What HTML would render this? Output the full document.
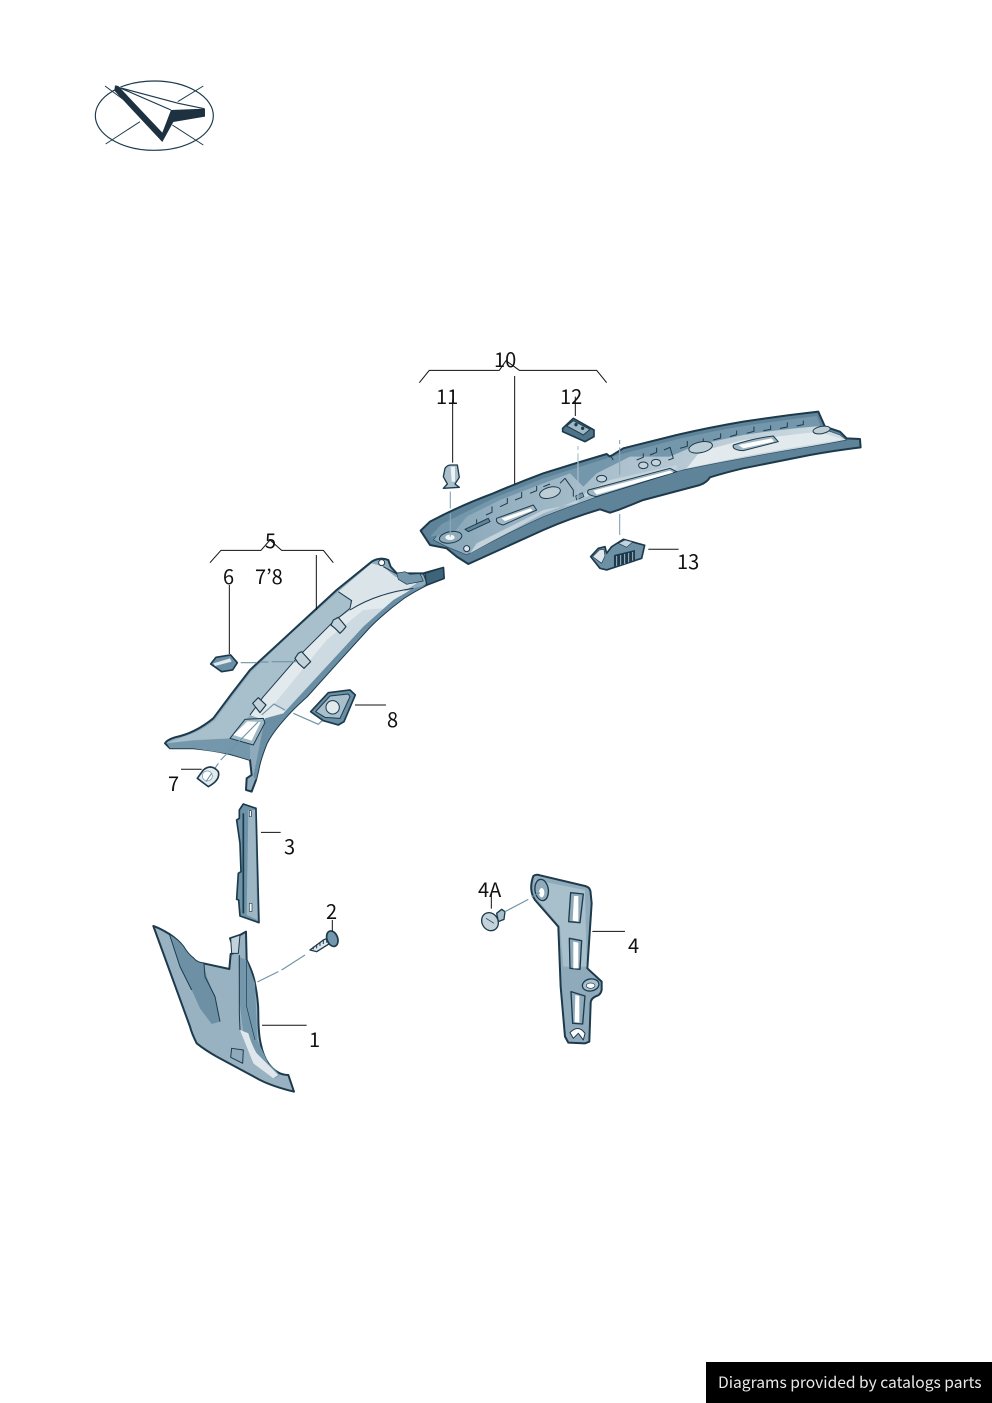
<!DOCTYPE html>
<html><head><meta charset="utf-8"><style>
html,body{margin:0;padding:0;background:#fff;width:992px;height:1403px;overflow:hidden}
svg{display:block;position:absolute;left:0;top:0}
text{font-family:"Noto Sans CJK JP","DejaVu Sans",sans-serif;font-size:20px;fill:#111}
#f{position:absolute;left:706px;top:1362px;width:286px;height:41px;background:#000;color:#e8e8e8;font:15.6px/41px "Noto Sans CJK JP","DejaVu Sans",sans-serif;white-space:nowrap}
#f span{position:absolute;left:12px;top:0}
</style></head><body>
<svg width="992" height="1403" viewBox="0 0 992 1403">
<defs>
<linearGradient id="g1" x1="0" y1="0" x2="1" y2="0"><stop offset="0" stop-color="#86a5b7"/><stop offset=".4" stop-color="#a9bfcc"/><stop offset="1" stop-color="#cfdbe2"/></linearGradient>
</defs>

<!-- logo -->
<g transform="translate(85,70) scale(.3333)" fill="none" stroke="#1d3a4c">
<ellipse cx="208" cy="137" rx="177" ry="104" stroke-width="3.5"/>
<path d="M60 48L165 125M278 95L355 48M165 155L62 222M262 165L355 225" stroke-width="3"/>
<path d="M88 46L360 116L360 140L262 158L232 215L172 155Z" fill="#fff" stroke="none"/>
<path d="M90 46L100 48L232 188L258 120L360 116L360 140L265 156L232 216L88 62Z" fill="#1d3140" stroke="none"/>
<path d="M92 48L258 120M100 52L280 100L358 116" stroke-width="3.5"/>
</g>

<!-- part 10 -->
<g transform="translate(410,340) scale(.3333)" stroke-linejoin="round">
<path d="M32 572L60 545Q150 497 250 460Q325 428 400 400Q495 370 590 342L600 350L640 325Q720 305 800 285Q900 262 1000 245Q1110 228 1225 215L1245 260L1290 275L1310 295L1350 297L1352 322Q1270 332 1200 345Q1100 365 1000 385Q945 398 900 412Q890 428 870 435L700 480L625 510L600 518L570 508Q480 535 400 570Q290 620 175 672L140 650L110 625L60 615Z" fill="#5f8499" stroke="#1d3a4c" stroke-width="6"/>
<path d="M70 600L100 560Q170 518 250 480Q325 448 400 420Q500 388 600 360Q700 330 800 305Q900 282 1000 265Q1110 248 1215 235L1235 265L1290 285L1310 300Q1250 312 1200 320Q1100 336 1000 355Q905 372 820 390Q715 418 620 450Q510 488 400 530Q280 585 170 645L110 620Z" fill="url(#g1)" stroke="#2a4c60" stroke-width="2"/>
<path d="M60 590L95 552Q170 515 250 475Q325 445 400 415Q500 383 600 352Q700 325 800 298Q900 275 1000 258Q1110 242 1220 228L1232 258Q1110 268 1000 285L860 315L780 350L660 350L560 400L520 440L480 400L400 430L270 480L170 530L130 580Z" fill="#7497ab"/>
<path d="M830 385L870 335L1000 300L1100 290L1225 275L1300 298Q1100 330 1000 350Z" fill="#e3eaee"/>
<path d="M400 520Q480 490 570 455L800 388L800 375L600 420L530 455L500 490L400 510L200 610L180 640Z" fill="#c4d3db"/>
<g fill="none" stroke="#1d3a4c" stroke-width="3">
<path d="M180 570l20-10v-22M228 525l18-8v-18M270 500l22-10v-16M315 480l20-8v-16M360 460l20-8v-14M400 440l20-8M680 360l20-8v-12M720 345l20-8v-14M810 325l22-6v-16M860 315l20-6v-14M910 300l22-6v-14M960 290l20-6v-12M1010 280l22-6v-14M1060 272l22-4v-12M1110 265l22-4v-14M1160 258l20-4v-12"/>
<path d="M450 430L465 415L490 450L490 470M762 330L780 322L790 355L775 360M600 345L610 360"/>
</g>
<path d="M260 535L370 495L380 510L280 555Q255 550 260 535Z" fill="#9fb8c6" stroke="#1d3a4c" stroke-width="3"/>
<path d="M275 535L362 505L368 512L285 543Z" fill="#fff"/>
<path d="M970 315Q1030 295 1090 288L1105 305L1000 332Q965 330 970 315Z" fill="#9fb8c6" stroke="#1d3a4c" stroke-width="3"/>
<path d="M985 315L1085 295L1092 305L1000 325Z" fill="#fff"/>
<path d="M535 450L780 385L800 395L560 470Q525 465 535 450Z" fill="#9fb8c6" stroke="#1d3a4c" stroke-width="3"/>
<path d="M550 452L780 392L790 398L560 464Z" fill="#fff"/>
<path d="M165 568L235 535L240 545L175 575Z" fill="#5f8499" stroke="#1d3a4c" stroke-width="3"/>
<ellipse cx="420" cy="458" rx="32" ry="16" transform="rotate(-15 420 458)" fill="#bccdd6" stroke="#1d3a4c" stroke-width="3"/>
<ellipse cx="872" cy="322" rx="36" ry="16" transform="rotate(-12 872 322)" fill="#bccdd6" stroke="#1d3a4c" stroke-width="3"/>
<ellipse cx="1235" cy="270" rx="26" ry="11" transform="rotate(-10 1235 270)" fill="#bccdd6" stroke="#1d3a4c" stroke-width="3"/>
<ellipse cx="122" cy="592" rx="34" ry="17" transform="rotate(-10 122 592)" fill="#8fabba" stroke="#1d3a4c" stroke-width="3"/>
<ellipse cx="120" cy="592" rx="14" ry="8" fill="#f4f7f8"/>
<circle cx="170" cy="626" r="9" fill="#dfe7ec" stroke="#1d3a4c" stroke-width="3"/>
<ellipse cx="575" cy="416" rx="15" ry="10" fill="#c4d3db" stroke="#1d3a4c" stroke-width="3"/>
<ellipse cx="700" cy="376" rx="14" ry="10" fill="#c4d3db" stroke="#1d3a4c" stroke-width="3"/>
<ellipse cx="738" cy="368" rx="14" ry="10" fill="#c4d3db" stroke="#1d3a4c" stroke-width="3"/>
<path d="M500 480l22-10-5-12-20 10z" fill="#7497ab" stroke="#1d3a4c" stroke-width="2"/>
<!-- dash lines -->
<g fill="none" stroke="#88a8ba" stroke-width="3.5">
<path d="M121 455V505M121 520V590"/>
<path d="M504 318V330M504 340V480" stroke="#a9c0cd"/>
<path d="M629 300V312M629 322V405"/>
<path d="M629 522V585"/>
</g>
<!-- 11 -->
<path d="M105 385Q112 375 122 375L142 375L148 412L135 432L148 442L100 445L112 432L100 410Z" fill="#a9bfcc" stroke="#1d3a4c" stroke-width="4"/>
<path d="M122 380L135 380L135 425L125 425Z" fill="#eef2f4"/>
<!-- 12 -->
<path d="M458 265L490 235L552 270L552 290L525 305L458 275Z" fill="#4f7488" stroke="#1d3a4c" stroke-width="5"/>
<path d="M470 258L490 242L540 268L520 285Z" fill="#9fb8c6" stroke="#1d3a4c" stroke-width="3"/>
<circle cx="498" cy="254" r="5" fill="#1d3a4c"/><circle cx="518" cy="265" r="5" fill="#1d3a4c"/>
<!-- 13 -->
<path d="M542 650L565 625L585 620L590 640L605 620L640 598L665 605L704 616L695 655L590 690L570 685Z" fill="#6d90a4" stroke="#1d3a4c" stroke-width="5"/>
<path d="M548 650L568 630L582 628L585 648L575 670Z" fill="#dfe7ec" stroke="#1d3a4c" stroke-width="2"/>
<path d="M625 610L645 600L668 606L650 622Z" fill="#c4d3db" stroke="#1d3a4c" stroke-width="2"/>
<path d="M612 645L675 630L675 660L612 680Z" fill="#1d3a4c"/>
<path d="M620 648v30M632 645v30M644 642v30M656 639v28M668 636v26" stroke="#9fb8c6" stroke-width="3"/>
<!-- leaders -->
<g fill="none" stroke="#111" stroke-width="3">
<path d="M28 128L58 91H268L288 62L328 91H560L590 128"/>
<path d="M314 108V432"/>
<path d="M128 178V368"/>
<path d="M496 170V228"/>
<path d="M715 628H806"/>
</g>
</g>

<!-- part 5 -->
<g transform="translate(150,530) scale(.3333)" stroke-linejoin="round">
<path d="M45 640Q50 630 75 622Q135 610 190 565Q245 490 300 420Q365 360 430 300Q495 240 560 180L665 95Q690 80 715 90L722 110L740 130L820 130L880 113L882 145L830 165Q790 185 760 205Q705 245 660 290Q610 345 560 400Q515 450 470 500Q430 535 400 570Q365 610 350 640Q330 690 325 720L318 750L305 785L288 780L290 745L305 735L300 690Q270 680 240 672Q185 660 130 655Q90 655 60 655Z" fill="#8fabbb" stroke="#1d3a4c" stroke-width="6"/>
<path d="M50 640Q100 620 130 610Q165 595 195 570Q250 495 305 425Q365 365 430 305L565 185L600 210L600 235L545 280L440 385L340 500L300 555L240 625L130 630Z" fill="#a8bfcc"/>
<path d="M565 185L665 100L700 110L735 140L800 160L760 185L660 205L600 240L605 210Z" fill="#dbe4e9"/>
<path d="M600 240L660 205L780 180L720 225L640 305L520 435L400 555L340 570L300 555L340 500L440 385L545 280Z" fill="#e3eaee"/>
<path d="M370 525L530 330L640 240L700 235L640 300L520 435L405 545Z" fill="#cddae1"/>
<path d="M345 565L400 550L520 420L640 290L730 210L790 175L830 165Q790 185 760 205Q705 245 660 290Q610 345 560 400Q515 450 470 500Q430 535 400 570Q365 610 350 640Q330 690 325 720L318 750L310 740L320 690L330 640Z" fill="#6a8fa4"/>
<path d="M130 632L240 625L300 640L300 690L240 672L130 655L60 655L50 640Z" fill="#7497ab"/>
<path d="M240 625L285 568L340 565L345 578L310 645Z" fill="#9fb8c6" stroke="#1d3a4c" stroke-width="3"/>
<path d="M250 615L292 574L332 576L305 632Z" fill="#fff"/>
<path d="M300 555L340 500L440 385L545 280L600 235L605 212L565 185" fill="none" stroke="#1d3a4c" stroke-width="3"/>
<path d="M600 240Q680 190 790 175" fill="none" stroke="#1d3a4c" stroke-width="3"/>
<path d="M700 110l40 22 80 0 10 25" fill="none" stroke="#1d3a4c" stroke-width="3"/>
<circle cx="695" cy="98" r="9" fill="#fff" stroke="#1d3a4c" stroke-width="3"/>
<path d="M825 130L880 113L882 145L830 165Z" fill="#3f6479" stroke="#1d3a4c" stroke-width="4"/>
<path d="M740 130l25-5 15 8 30-2 10 22-50 10-25-15z" fill="#7497ab" stroke="#1d3a4c" stroke-width="2"/>
<!-- clips -->
<g fill="#c4d3db" stroke="#1d3a4c" stroke-width="3.5">
<path d="M543 285L550 270L565 262L588 290L580 300L570 310L555 295Z"/>
<path d="M435 385L445 370L455 365L482 395L472 405L462 415L445 400Z"/>
<path d="M308 520L325 503L348 525L330 548Z"/>
</g>
<!-- dashes -->
<g fill="none" stroke="#6f94a8" stroke-width="3.5">
<path d="M272 398H320M330 396H355M365 395H440"/>
<path d="M335 555L372 522L405 540M430 550L505 583L555 535"/>
<path d="M168 755L205 700M212 690L325 575"/>
</g>
<!-- 6 -->
<path d="M182 402L198 382L242 375L262 398L248 420L215 425Z" fill="#6a8fa4" stroke="#1d3a4c" stroke-width="5"/>
<path d="M190 400L240 385L245 395L195 408Z" fill="#dfe7ec"/>
<!-- 7 -->
<path d="M160 720Q185 700 205 725Q212 750 175 770L155 755L142 745Z" fill="#e3eaee" stroke="#1d3a4c" stroke-width="5"/>
<circle cx="172" cy="738" r="15" fill="#fff" stroke="#6f94a8" stroke-width="2"/>
<path d="M168 755L185 730" stroke="#6f94a8" stroke-width="3.5"/>
<!-- 8 -->
<path d="M482 545L535 488L600 480L616 495L582 575L565 585L520 572Z" fill="#6a8fa4" stroke="#1d3a4c" stroke-width="5"/>
<path d="M497 545L540 498L595 492L600 500L570 565L525 562Z" fill="#a8bfcc" stroke="#1d3a4c" stroke-width="3"/>
<circle cx="548" cy="532" r="20" fill="#e3eaee" stroke="#1d3a4c" stroke-width="3"/>
<g fill="none" stroke="#111" stroke-width="3">
<path d="M180 98L213 61H333L360 30L395 61H520L550 98"/>
<path d="M499 75V240"/>
<path d="M238 165V372"/>
<path d="M615 525H708"/>
<path d="M93 718H155"/>
</g>
</g>

<!-- parts 1,2,3 -->
<g transform="translate(140,800) scale(.3333)" stroke-linejoin="round">
<!-- 3 -->
<path d="M310 12L348 25L357 368L300 348L296 300L290 298L295 220L303 215L300 130L290 60L298 55L298 30Z" fill="#6e92a6" stroke="#1d3a4c" stroke-width="5"/>
<path d="M325 30L345 30L352 360L320 345Z" fill="#9db6c4"/>
<path d="M310 40L310 340" stroke="#1d3a4c" stroke-width="5"/>
<path d="M328 32h6v18h-6zM328 310h8v24h-8z" fill="#fff" stroke="#1d3a4c" stroke-width="2"/>
<!-- 1 -->
<path d="M40 378Q60 385 88 402Q115 420 130 440Q145 465 160 475Q170 488 190 490L268 507L272 462L285 458L270 415L300 405L318 395L320 480Q340 520 345 550Q355 600 355 640Q355 700 362 730Q370 770 385 790Q410 825 445 825L462 875Q400 860 360 840L230 770Q195 750 170 730Q155 700 150 680Z" fill="#98b2c1" stroke="#1d3a4c" stroke-width="6"/>
<path d="M90 405Q115 420 130 440Q145 465 160 475Q170 488 190 490L200 530L225 590L240 665L215 672L180 625L155 570L120 500Z" fill="#6d90a4"/>
<path d="M88 402L120 500L155 570M192 490L195 530L225 590L240 665" fill="none" stroke="#1d3a4c" stroke-width="3"/>
<path d="M295 470L320 480L345 550L352 720L385 790L420 825L405 835L340 780L310 700L298 600Z" fill="#7497ab"/>
<path d="M300 690L325 700Q335 735 350 760L415 825L400 835L340 790Z" fill="#dfe7ec"/>
<path d="M298 465V640L300 690" fill="none" stroke="#1d3a4c" stroke-width="3"/>
<path d="M320 480L320 620L345 720" fill="none" stroke="#1d3a4c" stroke-width="2"/>
<path d="M275 745L310 750L308 790L272 772Z" fill="#8fabbb" stroke="#1d3a4c" stroke-width="3"/>
<path d="M272 415L300 405L295 460L275 460Z" fill="#c4d3db" stroke="#1d3a4c" stroke-width="3"/>
<!-- 2 -->
<path d="M510 450L550 420L562 415L570 430L530 455Z" fill="#dfe7ec" stroke="#1d3a4c" stroke-width="4"/>
<path d="M520 448v-8M530 445v-12M540 438v-12M550 432v-12M560 428v-12" stroke="#1d3a4c" stroke-width="3"/>
<ellipse cx="577" cy="416" rx="16" ry="24" transform="rotate(-20 577 416)" fill="#7497ab" stroke="#1d3a4c" stroke-width="5"/>
<path d="M352 546L415 515M425 510L495 465" stroke="#6f94a8" stroke-width="3.5" fill="none"/>
<g fill="none" stroke="#111" stroke-width="3">
<path d="M363 97H422"/>
<path d="M577 360V395"/>
<path d="M366 676H500"/>
</g>
</g>

<!-- part 4 -->
<g transform="translate(470,870) scale(.3333)" stroke-linejoin="round">
<path d="M190 18Q198 12 210 16L345 48Q362 52 362 70L365 100L352 295L395 335L395 360Q392 375 380 378Q362 385 362 400L358 515L345 520L295 518L285 500L272 350L265 170L195 90Q175 60 190 18Z" fill="#8fabbb" stroke="#1d3a4c" stroke-width="6"/>
<path d="M195 30L345 60L350 290L280 290L270 170L200 85Z" fill="#a8bfcc"/>
<ellipse cx="215" cy="60" rx="20" ry="32" transform="rotate(-8 215 60)" fill="#8fabbb" stroke="#1d3a4c" stroke-width="4"/>
<ellipse cx="215" cy="68" rx="8" ry="14" fill="#fff"/>
<g fill="#8fabbb" stroke="#1d3a4c" stroke-width="4">
<path d="M302 68L340 72L330 158L296 155Z"/>
<path d="M298 205L335 212L330 298L300 295Z"/>
<path d="M303 365L345 378L338 462L308 460Z"/>
</g>
<path d="M312 78L325 78L325 155L308 152Z M310 215L325 218L325 295L310 295Z M316 375L328 378L328 458L314 456Z" fill="#fff"/>
<ellipse cx="362" cy="345" rx="25" ry="18" transform="rotate(-10 362 345)" fill="#a8bfcc" stroke="#1d3a4c" stroke-width="4"/>
<ellipse cx="362" cy="347" rx="13" ry="8" fill="#fff" stroke="#1d3a4c" stroke-width="2"/>
<path d="M300 488Q325 462 345 490L340 510L325 490L310 505Z" fill="#fff" stroke="#1d3a4c" stroke-width="3"/>
<path d="M80 130L95 118L105 125L102 148L85 155Z" fill="#a8bfcc" stroke="#1d3a4c" stroke-width="4"/>
<ellipse cx="60" cy="155" rx="24" ry="28" transform="rotate(-30 60 155)" fill="#c4d3db" stroke="#1d3a4c" stroke-width="4"/>
<path d="M48 145L72 160" stroke="#1d3a4c" stroke-width="2"/>
<path d="M105 125L175 88M185 80L210 68" stroke="#6f94a8" stroke-width="3.5" fill="none"/>
<g fill="none" stroke="#111" stroke-width="3">
<path d="M64 72V116"/>
<path d="M367 184H465"/>
</g>
</g>

<!-- labels -->
<text x="494" y="367">10</text>
<text x="436" y="404">11</text>
<text x="560" y="404">12</text>
<text x="677" y="569">13</text>
<text x="265" y="548">5</text>
<text x="223" y="584">6</text>
<text x="255" y="584">7’8</text>
<text x="387" y="727">8</text>
<text x="168" y="791">7</text>
<text x="284" y="854">3</text>
<text x="326" y="919">2</text>
<text x="309" y="1047">1</text>
<text x="478" y="897">4A</text>
<text x="628" y="953">4</text>
</svg>
<div id="f"><span>Diagrams provided by catalogs parts</span></div>
</body></html>
